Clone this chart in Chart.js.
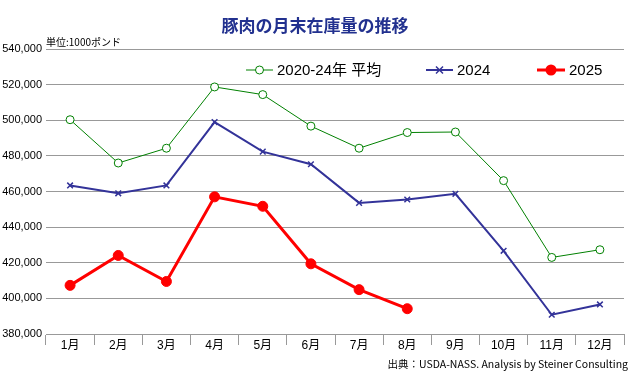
<!DOCTYPE html>
<html>
<head>
<meta charset="utf-8">
<title>豚肉の月末在庫量の推移</title>
<script src="https://cdn.jsdelivr.net/npm/chart.js@4/dist/chart.umd.min.js"></script>
<style>
  html, body { margin: 0; padding: 0; background: #fff; }
  #wrap { width: 630px; height: 390px; position: relative; }
</style>
</head>
<body>
<div id="wrap"><canvas id="chart" width="630" height="390"></canvas></div>
<script>
// data (1000 lbs)
const months = ['1月', '2月', '3月', '4月', '5月', '6月', '7月', '8月', '9月', '10月', '11月', '12月'];
const avg2020to24 = [500300, 476000, 484300, 518700, 514400, 496700, 484300, 493100, 493400, 466100, 423000, 427300];
const y2024 = [463400, 459000, 463400, 499000, 482400, 475300, 453600, 455500, 458700, 426700, 390800, 396600];
const y2025 = [407300, 424100, 409500, 457000, 451700, 419400, 404900, 394200];
const yTicks = { min: 380000, max: 540000, step: 20000 };

const seriesNames = ['2020-24年 平均', '2024', '2025'];
const JP = '"Liberation Sans", "Noto Sans CJK JP", sans-serif';

// title, unit note, source and the in-plot legend
const extras = {
  id: 'extras',
  afterDraw(chart) {
    const ctx = chart.ctx;
    const area = chart.chartArea;
    ctx.save();
    ctx.fillStyle = '#22318f';
    ctx.font = 'bold 17px "Noto Sans CJK JP", sans-serif';
    ctx.textAlign = 'center';
    ctx.textBaseline = 'middle';
    ctx.fillText('豚肉の月末在庫量の推移', 315, 26);

    ctx.fillStyle = '#000';
    ctx.font = '10px "Noto Sans CJK JP", sans-serif';
    ctx.textAlign = 'left';
    ctx.fillText('単位:1000ポンド', area.left, 42);

    ctx.font = '10.5px "Noto Sans CJK JP", sans-serif';
    ctx.textAlign = 'right';
    ctx.fillText('出典：USDA-NASS. Analysis by Steiner Consulting', 628, 364);

    // legend
    const ly = 70;
    const items = [
      { x: 246, w: 27, color: '#008000', lw: 1, mark: 'circle' },
      { x: 426, w: 27, color: '#333399', lw: 2, mark: 'cross' },
      { x: 537, w: 28, color: '#ff0000', lw: 3, mark: 'dot' }
    ];
    ctx.font = '15px ' + JP;
    ctx.textAlign = 'left';
    items.forEach((it, i) => {
      ctx.strokeStyle = it.color;
      ctx.lineWidth = it.lw;
      ctx.beginPath();
      ctx.moveTo(it.x, ly);
      ctx.lineTo(it.x + it.w, ly);
      ctx.stroke();
      const cx = it.x + it.w / 2;
      if (it.mark === 'circle') {
        ctx.fillStyle = '#fff';
        ctx.lineWidth = 1;
        ctx.beginPath();
        ctx.arc(cx, ly, 4, 0, Math.PI * 2);
        ctx.fill();
        ctx.stroke();
      } else if (it.mark === 'cross') {
        ctx.lineWidth = 1.5;
        ctx.beginPath();
        ctx.moveTo(cx - 3.5, ly - 3.5); ctx.lineTo(cx + 3.5, ly + 3.5);
        ctx.moveTo(cx + 3.5, ly - 3.5); ctx.lineTo(cx - 3.5, ly + 3.5);
        ctx.stroke();
      } else {
        ctx.fillStyle = it.color;
        ctx.beginPath();
        ctx.arc(cx, ly, 5.5, 0, Math.PI * 2);
        ctx.fill();
      }
      ctx.fillStyle = '#000';
      ctx.fillText(seriesNames[i], it.x + it.w + 4, ly + 1);
    });
    ctx.restore();
  }
};

const ctx = document.getElementById('chart').getContext('2d');
new Chart(ctx, {
  type: 'line',
  data: {
    labels: months,
    datasets: [
      {
        label: seriesNames[0],
        data: avg2020to24,
        borderColor: '#008000',
        borderWidth: 1,
        pointStyle: 'circle',
        pointRadius: 4,
        pointBackgroundColor: '#fff',
        pointBorderColor: '#008000',
        pointBorderWidth: 1
      },
      {
        label: seriesNames[1],
        data: y2024,
        borderColor: '#333399',
        borderWidth: 2,
        pointStyle: 'crossRot',
        pointRadius: 4,
        pointBorderColor: '#333399',
        pointBorderWidth: 1.5
      },
      {
        label: seriesNames[2],
        data: y2025,
        borderColor: '#ff0000',
        borderWidth: 3,
        pointStyle: 'circle',
        pointRadius: 5,
        pointBackgroundColor: '#ff0000',
        pointBorderColor: '#ff0000',
        pointBorderWidth: 1
      }
    ]
  },
  options: {
    responsive: false,
    animation: false,
    devicePixelRatio: 1,
    layout: { padding: { top: 49, right: 2, left: 0, bottom: 0 } },
    plugins: {
      legend: { display: false },
      title: { display: false },
      tooltip: { enabled: false }
    },
    scales: {
      x: {
        offset: true,
        afterFit: s => { s.height = 56; },
        border: { display: true, color: '#999' },
        grid: { offset: true, drawOnChartArea: false, drawTicks: true, tickLength: 11, color: '#999' },
        ticks: { color: '#000', font: { family: JP, size: 12 }, padding: -7, maxRotation: 0 }
      },
      y: {
        min: yTicks.min,
        max: yTicks.max,
        afterFit: s => { s.width = 46; },
        border: { display: false },
        grid: { color: '#999', drawTicks: false },
        ticks: {
          stepSize: yTicks.step,
          color: '#000',
          padding: 4,
          font: { family: JP, size: 11 },
          callback: v => v.toLocaleString('en-US')
        }
      }
    }
  },
  plugins: [extras]
});
</script>
</body>
</html>
